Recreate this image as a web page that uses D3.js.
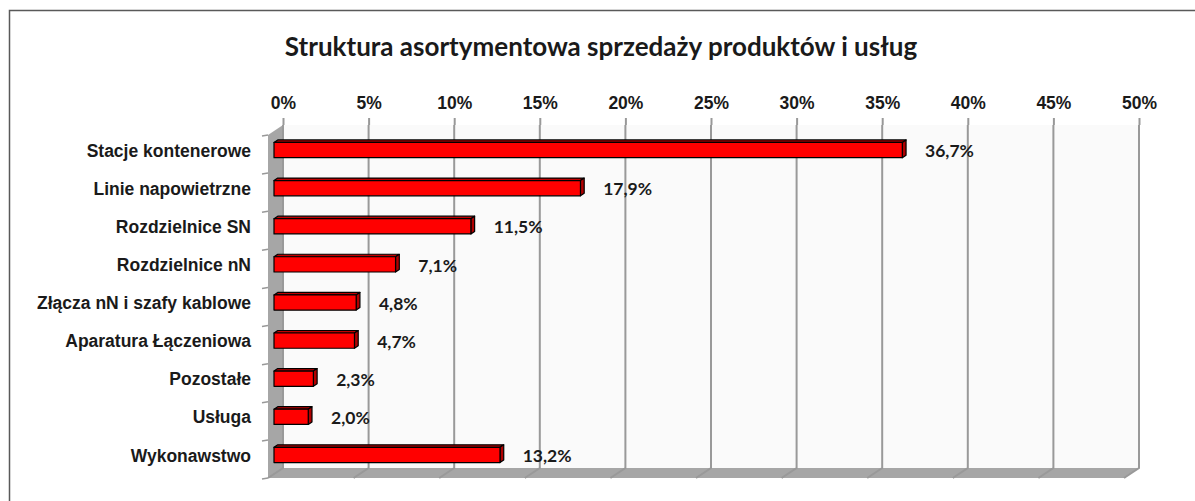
<!DOCTYPE html>
<html>
<head>
<meta charset="utf-8">
<script src="https://cdn.jsdelivr.net/npm/d3@7"></script>
<style>
  body { margin: 0; background: #fff; }
  svg { display: block; font-family: Lato, "Open Sans", sans-serif; }
</style>
</head>
<body>
<div id="chart"></div>
<script>
// Struktura asortymentowa — 3D bar chart (Excel style)
const categories = ["Stacje kontenerowe", "Linie napowietrzne", "Rozdzielnice SN", "Rozdzielnice nN",
  "Złącza nN i szafy kablowe", "Aparatura Łączeniowa", "Pozostałe", "Usługa", "Wykonawstwo"];
const values = [36.7, 17.9, 11.5, 7.1, 4.8, 4.7, 2.3, 2.0, 13.2];
const xTicks = [0, 5, 10, 15, 20, 25, 30, 35, 40, 45, 50];

const width = 1195, height = 501;
const wall = { left: 283, right: 1139, top: 125, bottom: 468 };
const depth = { dx: -15, dy: 10 };   // back -> front offset

const svg = d3.select("#chart").append("svg")
    .attr("width", width).attr("height", height);

// outer frame
svg.append("rect").attr("x", 9.5).attr("y", 10.5).attr("width", 1200).attr("height", 520)
    .attr("fill", "#fff").attr("stroke", "#595959").attr("stroke-width", 1.5);

const x = d3.scaleLinear().domain([0, 50]).range([wall.left, wall.right]);
const y = d3.scaleBand().domain(categories).range([wall.top, wall.bottom]).paddingInner(0.6).paddingOuter(0.3);

// project a point at depth d (0 = back wall, 1 = front edge)
const P = (px, py, d) => [px + depth.dx * d, py + depth.dy * d];
const poly = pts => "M" + pts.map(p => p.join(",")).join("L") + "Z";

// back wall
svg.append("rect").attr("x", wall.left).attr("y", wall.top)
    .attr("width", wall.right - wall.left).attr("height", wall.bottom - wall.top)
    .attr("fill", "#fafafa");

// left side wall
svg.append("path")
    .attr("d", poly([[wall.left, wall.top], [wall.left, wall.bottom], P(wall.left, wall.bottom, 1), P(wall.left, wall.top, 1)]))
    .attr("fill", "#a6a6a6");

// floor
svg.append("path")
    .attr("d", poly([[wall.left, wall.bottom], [wall.right, wall.bottom], P(wall.right, wall.bottom, 1), P(wall.left, wall.bottom, 1)]))
    .attr("fill", "#a6a6a6");

// gridlines on wall + floor
const grid = svg.append("g").attr("stroke", "#999").attr("stroke-width", 2).attr("fill", "none");
xTicks.forEach(t => {
    const gx = x(t);
    grid.append("path").attr("d", `M${gx},${wall.top}L${gx},${wall.bottom}L${P(gx, wall.bottom, 1).join(",")}`);
});

// top axis
const xAxis = svg.append("g").attr("transform", `translate(0,${wall.top})`)
    .call(d3.axisTop(x).tickValues(xTicks).tickFormat(d => d + "%").tickSizeInner(7).tickSizeOuter(0).tickPadding(9));
xAxis.select(".domain").remove();
xAxis.selectAll("line").attr("stroke", "#999").attr("stroke-width", 2);
xAxis.selectAll("text").attr("fill", "#1a1a1a").style("font-size", "17.5px").style("font-weight", "bold");

// ticks on left wall front edge at category boundaries
const lt = svg.append("g").attr("stroke", "#999").attr("stroke-width", 1.5);
d3.range(categories.length + 1).forEach(i => {
    const by = wall.top + i * (wall.bottom - wall.top) / categories.length;
    const [fx, fy] = P(wall.left, by, 1);
    lt.append("line").attr("x1", fx - 6).attr("y1", fy + 1).attr("x2", fx).attr("y2", fy);
});

// category labels
const yAxis = svg.append("g").attr("transform", `translate(251,${depth.dy * 0.6 + 1})`)
    .call(d3.axisLeft(y).tickSize(0).tickPadding(0));
yAxis.select(".domain").remove();
yAxis.selectAll("text").attr("fill", "#1a1a1a").style("font-size", "17.5px").style("font-weight", "bold");

// bars
const dFront = 0.6, dBack = 0.35;
const bars = svg.append("g").attr("stroke", "#000").attr("stroke-width", 1.2).attr("stroke-linejoin", "round");
categories.forEach((c, i) => {
    const v = values[i];
    const y0 = y(c), y1 = y(c) + y.bandwidth();
    const x0 = x(0), x1 = x(v);
    // top face
    bars.append("path").attr("fill", "#c00000")
        .attr("d", poly([P(x0, y0, dFront), P(x1, y0, dFront), P(x1, y0, dBack), P(x0, y0, dBack)]));
    // side face
    bars.append("path").attr("fill", "#b00000")
        .attr("d", poly([P(x1, y0, dFront), P(x1, y1, dFront), P(x1, y1, dBack), P(x1, y0, dBack)]));
    // front face
    const [fx0, fy0] = P(x0, y0, dFront), [fx1, fy1] = P(x1, y1, dFront);
    bars.append("rect").attr("fill", "#ff0000")
        .attr("x", fx0).attr("y", fy0).attr("width", fx1 - fx0).attr("height", fy1 - fy0);
});

// value labels
svg.append("g").selectAll("text").data(categories).join("text")
    .attr("x", (c, i) => P(x(values[i]), 0, dBack)[0] + 19)
    .attr("y", c => y(c) + y.bandwidth() / 2 + depth.dy * dFront + 1)
    .attr("dy", "0.35em")
    .attr("fill", "#1a1a1a").style("font-size", "17.5px").style("font-weight", "bold")
    .text((c, i) => values[i].toFixed(1).replace(".", ",") + "%");

// title
svg.append("text").attr("x", 601).attr("y", 56).attr("text-anchor", "middle")
    .attr("fill", "#1a1a1a").style("font-size", "26px").style("font-weight", "bold")
    .text("Struktura asortymentowa sprzedaży produktów i usług");
</script>
</body>
</html>
